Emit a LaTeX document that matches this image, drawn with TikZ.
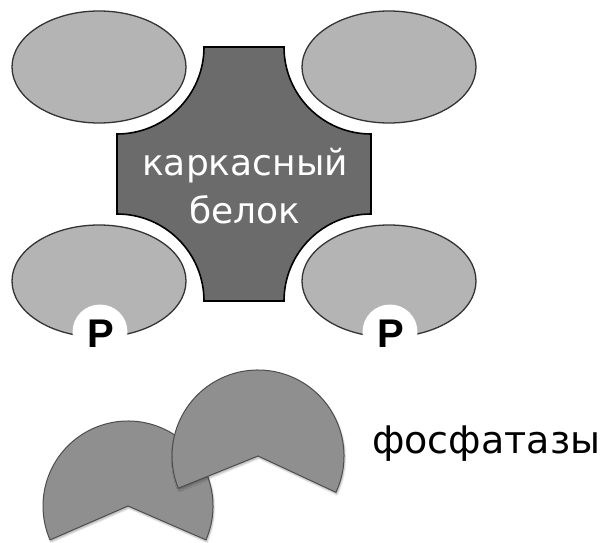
\documentclass[tikz,border=0pt]{standalone}
\usepackage{fontspec}
\usepackage{tikz}
\usetikzlibrary{shadows.blur}
\newfontfamily\labelfont{DejaVu Sans}
\newfontfamily\markfont{Liberation Sans}
\definecolor{subunitgray}{RGB}{180,180,180}
\definecolor{scaffoldgray}{RGB}{107,107,107}
\definecolor{phosgray}{RGB}{143,143,143}
\definecolor{edgegray}{RGB}{77,77,77}

\begin{document}
\begin{tikzpicture}[x=1pt, y=1pt,
  subunit/.style={draw=black!80, line width=1.3pt, fill=subunitgray},
  scaffold/.style={draw=black, line width=1.6pt, fill=scaffoldgray},
  phosphatase/.style={draw=edgegray, line width=1pt, fill=phosgray,
    blur shadow={shadow xshift=1pt, shadow yshift=-2pt, shadow opacity=30, shadow blur steps=5}},
  pmark/.style={font=\markfont\bfseries\fontsize{40}{40}\selectfont, inner sep=0pt},
  labeltext/.style={font=\labelfont\fontsize{36}{48}\selectfont, align=center, inner sep=0pt}
]
\useasboundingbox (0,0) rectangle (615,542);

%% binding partners around the scaffold
\foreach \x/\y in {99/475, 389/475, 99/261, 389/261} {
  \draw[subunit] (\x,\y) ellipse [x radius=87, y radius=56];
}
%% phosphorylated sites
\foreach \x/\n in {100/left, 390/right} {
  \fill[white] (\x,210) circle [radius=27.5];
  \node[pmark] (p-\n) at (\x+1,208) {P};
}

%% scaffold protein
\draw[scaffold] (204,495) -- (284,495) arc[start angle=180, end angle=270, radius=87]
  -- (371,328) arc[start angle=90, end angle=180, radius=87]
  -- (204,241) arc[start angle=0, end angle=90, radius=87]
  -- (117,408) arc[start angle=270, end angle=360, radius=87] -- cycle;
\node[labeltext, text=white] (scaffold) at (245,356) {каркасный\\белок};

%% phosphatases
\draw[phosphatase] (128,36) -- ++(-23.5:85) arc[start angle=-23.5, end angle=203.5, radius=85] -- cycle;
\draw[phosphatase] (258,86) -- ++(-25:86) arc[start angle=-25, end angle=202, radius=86] -- cycle;
\node[labeltext, font=\labelfont\fontsize{38}{48}\selectfont, anchor=base west] (phos) at (372,89) {фосфатазы};
\end{tikzpicture}
\end{document}
